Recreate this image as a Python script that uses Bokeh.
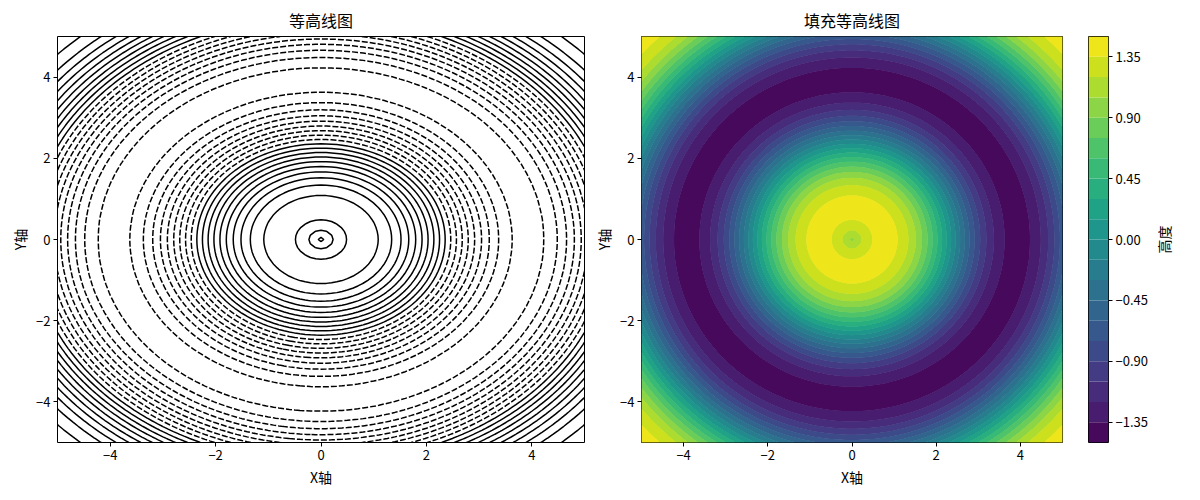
import numpy as np
from bokeh.plotting import figure
from bokeh.layouts import row
from bokeh.models import Range1d, FixedTicker, CustomJSTickFormatter, Spacer
from bokeh.palettes import Viridis256
from bokeh.embed import file_html
from bokeh.resources import INLINE

FONT = "Noto Sans CJK SC"

# grid of the plotted surface
x_vals = np.linspace(-5, 5, 101)
y_vals = np.linspace(-5, 5, 101)
X, Y = np.meshgrid(x_vals, y_vals)
R = np.sqrt(X ** 2 + Y ** 2)
Z = np.sin(R) + np.cos(R)

levels = [-1.5, -1.35, -1.2, -1.05, -0.9, -0.75, -0.6, -0.45, -0.3, -0.15,
          0.0, 0.15, 0.3, 0.45, 0.6, 0.75, 0.9, 1.05, 1.2, 1.35, 1.5]
neg_levels = [l for l in levels if l < 0]
pos_levels = [l for l in levels if l >= 0]
axis_ticks = [-4, -2, 0, 2, 4]
cbar_ticks = [-1.35, -0.9, -0.45, 0.0, 0.45, 0.9, 1.35]
n_bands = len(levels) - 1
band_colors = [Viridis256[int((i + 0.5) / n_bands * 256)] for i in range(n_bands)]

titles = ["等高线图", "填充等高线图"]
xlabel = "X轴"
ylabel = "Y轴"
cbar_label = "高度"

int_fmt = CustomJSTickFormatter(code="return tick.toFixed(0).replace('-', '\u2212');")
dec_fmt = CustomJSTickFormatter(code="return tick.toFixed(2).replace('-', '\u2212');")


def style_axes(p):
    p.outline_line_color = "black"
    p.outline_line_width = 1
    p.outline_line_alpha = 1
    p.xgrid.visible = False
    p.ygrid.visible = False
    p.background_fill_color = "white"
    p.border_fill_color = "white"
    for ax in list(p.xaxis) + list(p.yaxis):
        ax.axis_line_color = None
        ax.major_tick_line_color = "black"
        ax.major_tick_out = 4
        ax.major_tick_in = 0
        ax.minor_tick_line_color = None
        ax.major_label_text_font = FONT
        ax.major_label_text_font_size = "13px"
        ax.major_label_text_color = "black"
        ax.major_label_standoff = 3
        ax.axis_label_text_font = FONT
        ax.axis_label_text_font_size = "14px"
        ax.axis_label_text_font_style = "normal"
        ax.axis_label_text_color = "black"
    if p.title is not None:
        p.title.text_font = FONT
        p.title.text_font_size = "16px"
        p.title.text_font_style = "normal"
        p.title.align = "center"
        p.title.text_color = "black"


def main_fig(title, frame_w):
    p = figure(title=title, frame_width=frame_w, frame_height=406,
               min_border_left=0, min_border_right=7,
               min_border_top=30, min_border_bottom=48,
               x_range=Range1d(-5, 5), y_range=Range1d(-5, 5),
               output_backend="svg", toolbar_location=None)
    p.xaxis.ticker = FixedTicker(ticks=axis_ticks)
    p.yaxis.ticker = FixedTicker(ticks=axis_ticks)
    p.xaxis.formatter = int_fmt
    p.yaxis.formatter = int_fmt
    p.xaxis.axis_label = xlabel
    p.yaxis.axis_label = ylabel
    style_axes(p)
    p.xaxis.axis_label_standoff = 4
    p.yaxis.axis_label_standoff = 3
    return p


# left: contour lines
p1 = main_fig(titles[0], 527)
p1.contour(X, Y, Z, pos_levels, line_color="black", line_width=1.5)
p1.contour(X, Y, Z, neg_levels, line_color="black", line_width=1.5, line_dash="6 2")

# right: filled contour (drawn twice to hide antialiasing seams)
p2 = main_fig(titles[1], 421)
p2.contour(X, Y, Z, levels, fill_color=band_colors, line_color=None)
p2.contour(X, Y, Z, levels, fill_color=band_colors, line_color=None)

# colorbar
p3 = figure(frame_width=20, frame_height=406,
            min_border_left=0, min_border_right=0,
            min_border_top=30, min_border_bottom=48,
            x_range=Range1d(0, 1), y_range=Range1d(levels[0], levels[-1]),
            x_axis_location=None, y_axis_location="right",
            output_backend="svg", toolbar_location=None)
p3.quad(left=0, right=1, bottom=levels[:-1], top=levels[1:],
        fill_color=band_colors, line_color=None)
p3.yaxis.ticker = FixedTicker(ticks=cbar_ticks)
p3.yaxis.formatter = dec_fmt
style_axes(p3)

# colorbar label (left axis of a blank strip, so that it reads upwards)
p4 = figure(frame_width=1, frame_height=406,
            min_border_left=0, min_border_right=0,
            min_border_top=30, min_border_bottom=48,
            x_range=Range1d(0, 1), y_range=Range1d(levels[0], levels[-1]),
            x_axis_location=None, y_axis_location="left",
            output_backend="svg", toolbar_location=None)
style_axes(p4)
p4.outline_line_color = None
p4.yaxis.ticker = FixedTicker(ticks=[])
p4.yaxis.major_tick_out = 0
p4.yaxis.major_label_standoff = 0
p4.yaxis.major_label_text_font_size = "0px"
p4.yaxis.axis_label = cbar_label
p4.yaxis.axis_label_standoff = 0

layout = row(Spacer(width=7, height=10), p1, p2,
             Spacer(width=19, height=10), p3, p4)
open("out.html", "w").write(file_html(layout, INLINE))
